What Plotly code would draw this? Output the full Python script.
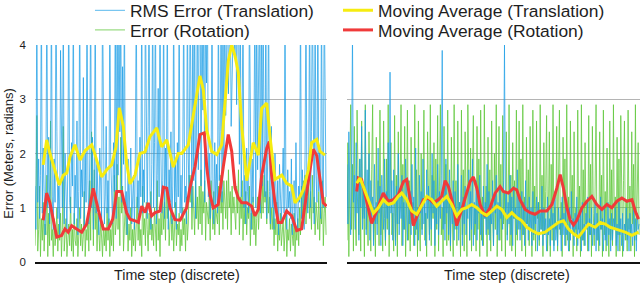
import plotly.graph_objects as go

# ---------------- data ----------------
# noisy series: two samples per time step, 320 samples per panel
left_rms_translation = [
    1.4, 0.6, 5, 1.1, 1.9, 0.8, 1.6, 5, 0.9, 2.1,
    1.3, 0.5, 1.8, 5, 1.0, 2.3, 0.7, 1.5, 5, 1.2,
    0.6, 1.9, 1.1, 5, 2.4, 0.8, 1.4, 0.5, 3.9, 1.7,
    1.0, 5, 0.7, 2.0, 1.3, 0.6, 1.8, 5, 1.1, 0.9,
    2.2, 1.4, 5, 0.7, 1.6, 1.0, 2.6, 0.5, 1.3, 5,
    0.8, 1.7, 1.2, 3.4, 0.6, 2.0, 1.1, 5, 1.5, 0.7,
    1.9, 5, 1.0, 2.3, 0.6, 1.4, 5, 0.9, 1.8, 1.2,
    0.5, 2.1, 1.3, 0.8, 5, 1.6, 0.7, 1.2, 2.5, 0.9,
    1.5, 0.6, 5, 1.9, 1.0, 0.7, 2.2, 1.3, 5, 0.8,
    5, 1.6, 5, 2.4, 5, 1.1, 3.6, 1.8, 5, 0.9,
    1.3, 0.5, 1.9, 0.8, 1.4, 2.1, 0.7, 1.2, 1.6, 0.6,
    2.0, 5, 1.0, 1.5, 0.7, 2.3, 1.2, 5, 0.9, 1.7,
    1.1, 5, 1.9, 0.8, 2.5, 5, 1.3, 0.6, 1.8, 5,
    1.0, 2.2, 5, 0.7, 1.6, 3.2, 1.2, 5, 2.0, 0.9,
    1.5, 5, 0.8, 2.1, 1.3, 5, 0.6, 1.7, 1.1, 2.4,
    0.7, 1.4, 5, 1.0, 1.8, 0.6, 2.2, 1.2, 5, 0.9,
    1.6, 0.8, 2.0, 5, 1.1, 1.4, 0.7, 5, 1.9, 1.2,
    5, 2.3, 1.0, 5, 1.5, 5, 0.8, 2.6, 5, 1.7,
    5, 5, 1.4, 5, 2.8, 5, 1.1, 5, 3.3, 5,
    1.2, 2.0, 0.8, 1.6, 5, 1.3, 0.7, 2.2, 1.0, 1.8,
    0.9, 5, 1.5, 2.4, 5, 1.1, 5, 1.9, 5, 2.7,
    5, 5, 3.1, 5, 5, 2.5, 5, 5, 5, 3.8,
    5, 2.9, 5, 5, 1.8, 5, 1.2, 2.4, 5, 1.0,
    1.6, 0.7, 2.1, 1.3, 0.9, 5, 1.4, 0.6, 1.9, 1.1,
    2.3, 5, 1.0, 5, 1.7, 3.5, 5, 0.9, 5, 1.4,
    5, 2.2, 1.2, 5, 0.8, 1.9, 5, 1.3, 0.7, 2.5,
    1.0, 1.6, 0.6, 2.0, 1.2, 0.8, 1.5, 0.5, 1.8, 1.1,
    0.7, 1.4, 2.1, 0.9, 5, 1.2, 0.6, 1.7, 1.0, 1.3,
    0.8, 1.9, 0.5, 1.2, 1.5, 0.7, 2.2, 1.0, 0.6, 1.4,
    1.1, 5, 0.8, 1.7, 1.3, 0.6, 2.0, 5, 1.2, 0.9,
    1.8, 5, 1.0, 2.4, 5, 1.4, 0.7, 5, 1.6, 1.1,
    5, 1.3, 2.1, 0.8, 5, 1.5, 1.0, 5, 1.9, 1.2,
]
left_rotation_error = [
    0.3, 0.9, 2.7, 0.2, 0.6, 1.4, 0.1, 0.8, 0.4, 1.1,
    0.2, 0.7, 0.5, 1.6, 0.1, 0.9, 0.3, 2.6, 0.4, 0.6,
    0.1, 0.8, 0.3, 0.5, 1.0, 0.2, 0.7, 0.4, 0.9, 0.1,
    0.6, 2.5, 0.2, 0.5, 0.8, 0.1, 0.4, 0.7, 0.3, 1.2,
    0.2, 0.6, 0.1, 0.9, 0.4, 0.3, 0.8, 0.1, 0.5, 1.0,
    0.3, 0.7, 0.2, 0.5, 1.3, 0.1, 0.6, 0.4, 0.9, 0.2,
    1.5, 0.4, 2.4, 0.8, 0.3, 1.7, 0.6, 1.1, 0.2, 0.9,
    0.5, 0.2, 0.8, 0.4, 0.1, 0.7, 0.3, 0.6, 0.2, 1.0,
    0.4, 0.8, 0.1, 0.6, 0.3, 0.9, 0.2, 1.6, 0.5, 0.7,
    1.8, 0.6, 1.2, 0.3, 2.3, 0.9, 1.4, 0.2, 0.8, 1.1,
    0.5, 0.9, 0.2, 0.7, 0.4, 1.0, 0.1, 0.6, 0.3, 0.8,
    0.2, 0.7, 1.2, 0.4, 0.9, 0.3, 0.6, 0.1, 1.4, 0.5,
    0.8, 0.3, 1.1, 0.6, 0.2, 0.9, 0.5, 1.3, 0.4, 0.7,
    0.3, 1.0, 0.6, 0.2, 1.5, 0.4, 0.8, 0.1, 0.9, 0.5,
    1.3, 0.6, 1.1, 0.4, 1.4, 0.8, 1.2, 0.3, 0.7, 1.0,
    0.4, 0.8, 0.2, 0.6, 1.1, 0.3, 0.7, 0.5, 0.9, 0.2,
    0.6, 0.3, 1.0, 0.5, 0.8, 0.2, 1.2, 0.4, 0.7, 1.6,
    1.1, 1.6, 0.6, 1.4, 0.9, 0.5, 1.5, 0.8, 1.2, 0.6,
    1.4, 0.7, 1.7, 0.5, 1.3, 0.9, 1.5, 0.4, 1.1, 0.8,
    0.7, 1.2, 0.4, 1.5, 0.9, 0.6, 1.3, 0.5, 1.0, 0.8,
    0.7, 1.4, 0.5, 1.6, 0.9, 1.3, 0.6, 1.5, 1.1, 0.8,
    1.5, 0.6, 1.7, 1.0, 1.3, 0.5, 1.4, 0.9, 1.2, 0.7,
    0.6, 1.4, 0.9, 1.7, 0.5, 1.2, 0.8, 1.5, 0.4, 1.1,
    0.7, 1.3, 0.5, 1.0, 0.8, 1.4, 0.3, 0.9, 0.6, 1.2,
    0.5, 0.9, 0.3, 0.8, 1.2, 0.6, 1.0, 1.4, 0.8, 1.5,
    0.9, 1.6, 1.1, 1.3, 0.7, 1.5, 0.9, 1.2, 0.6, 1.0,
    0.6, 1.0, 0.3, 0.8, 0.5, 1.1, 0.2, 0.7, 0.4, 0.9,
    0.3, 0.6, 0.8, 0.2, 0.5, 0.9, 0.1, 0.6, 0.4, 0.8,
    0.2, 0.7, 0.5, 0.3, 0.9, 0.1, 0.6, 0.4, 0.8, 0.3,
    1.0, 0.5, 1.4, 0.8, 1.5, 0.9, 1.6, 0.7, 1.2, 1.0,
    1.5, 0.8, 1.3, 0.6, 1.6, 0.9, 1.2, 0.5, 1.1, 0.8,
    0.6, 1.3, 0.4, 1.0, 0.7, 1.5, 0.3, 0.9, 1.2, 0.5,
]
right_rms_translation = [
    1.8, 0.7, 2.4, 1.2, 0.5, 2.0, 4.2, 1.1, 1.6, 0.6,
    2.2, 0.9, 1.4, 0.4, 1.9, 1.0, 2.5, 0.6, 1.3, 0.8,
    2.8, 0.5, 1.7, 1.1, 2.0, 0.4, 1.5, 0.8, 1.2, 0.3,
    1.8, 0.7, 1.1, 0.5, 2.1, 0.9, 1.4, 0.3, 1.6, 1.0,
    0.6, 1.9, 0.4, 1.3, 0.8, 2.2, 0.5, 3.5, 0.9, 1.5,
    0.4, 1.7, 1.0, 0.3, 1.4, 0.7, 2.0, 0.5, 1.2, 0.8,
    1.6, 0.3, 1.1, 0.6, 1.9, 0.9, 0.4, 1.5, 0.7, 1.3,
    0.5, 1.8, 0.8, 1.2, 0.3, 2.1, 0.6, 1.0, 0.4, 1.6,
    0.9, 1.3, 0.5, 1.9, 0.7, 1.1, 0.3, 1.7, 0.8, 1.4,
    0.4, 1.2, 0.6, 2.0, 0.9, 1.5, 0.3, 1.1, 0.7, 1.8,
    0.5, 1.3, 0.8, 1.6, 3.9, 0.6, 1.4, 0.4, 1.9, 0.9,
    1.2, 0.5, 1.7, 0.3, 1.0, 0.7, 1.5, 0.4, 1.3, 0.8,
    0.6, 1.8, 0.4, 1.1, 0.9, 1.6, 0.3, 1.2, 0.7, 1.4,
    0.5, 1.0, 0.8, 1.7, 0.4, 1.3, 0.6, 1.9, 0.3, 1.1,
    0.7, 1.5, 0.4, 1.2, 0.9, 1.6, 0.5, 1.0, 0.3, 1.4,
    0.8, 1.1, 0.5, 1.8, 0.6, 1.3, 0.4, 1.0, 0.7, 1.5,
    0.3, 1.2, 0.9, 1.6, 0.5, 1.1, 0.4, 1.4, 0.8, 1.0,
    0.6, 1.5, 4.0, 0.9, 1.3, 0.4, 1.1, 0.7, 1.6, 0.5,
    1.2, 0.3, 1.4, 0.8, 1.0, 0.5, 1.7, 0.6, 1.2, 0.4,
    0.9, 1.3, 0.5, 1.1, 0.3, 1.5, 0.7, 1.0, 0.4, 1.2,
    0.6, 1.0, 0.3, 1.3, 0.5, 0.9, 0.7, 1.2, 0.2, 1.1,
    0.4, 0.9, 0.6, 1.4, 0.3, 1.0, 0.5, 0.8, 0.2, 1.2,
    0.5, 0.8, 0.3, 1.1, 0.6, 0.9, 0.2, 1.3, 0.4, 0.7,
    0.3, 1.0, 0.6, 0.8, 0.2, 1.2, 0.5, 0.9, 0.3, 1.1,
    0.5, 0.7, 0.2, 1.0, 0.4, 1.3, 0.6, 0.8, 0.3, 0.9,
    0.6, 1.2, 0.3, 0.8, 0.5, 1.0, 0.2, 1.1, 0.4, 0.7,
    0.3, 0.9, 0.6, 1.2, 0.2, 0.8, 0.5, 1.0, 0.3, 0.7,
    0.5, 1.1, 0.2, 0.9, 0.4, 0.7, 0.3, 1.2, 0.6, 0.8,
    0.2, 1.0, 0.4, 0.7, 0.3, 1.1, 0.5, 0.8, 0.2, 0.9,
    0.4, 0.8, 0.6, 1.0, 0.3, 0.7, 0.2, 1.1, 0.5, 0.8,
    0.3, 0.9, 0.2, 0.7, 0.5, 1.0, 0.4, 0.8, 0.2, 0.9,
    0.5, 0.7, 0.3, 1.0, 0.4, 0.8, 0.2, 0.9, 0.6, 0.7,
]
right_rotation_error = [
    0.4, 2.2, 0.1, 1.3, 2.9, 0.6, 1.8, 0.2, 2.5, 0.9,
    0.3, 2.8, 1.1, 0.5, 1.9, 0.2, 2.6, 0.8, 1.4, 0.1,
    2.9, 0.6, 1.2, 0.3, 2.4, 0.9, 0.2, 1.7, 2.9, 0.4,
    1.0, 0.1, 2.3, 0.7, 1.5, 0.3, 2.8, 0.5, 1.1, 0.2,
    2.6, 0.8, 0.3, 1.9, 0.6, 2.9, 0.1, 1.4, 2.2, 0.5,
    0.9, 0.2, 2.7, 0.4, 1.6, 0.1, 2.4, 0.7, 1.2, 2.9,
    0.3, 1.8, 0.6, 2.5, 0.1, 1.0, 2.8, 0.4, 1.5, 0.2,
    2.3, 0.7, 1.1, 0.3, 2.9, 0.5, 1.7, 0.1, 2.6, 0.8,
    0.2, 2.0, 0.6, 1.3, 2.8, 0.4, 0.9, 0.1, 2.4, 1.2,
    0.5, 2.9, 0.3, 1.6, 0.8, 2.2, 0.1, 1.9, 0.6, 2.7,
    0.2, 1.4, 2.9, 0.5, 1.0, 0.1, 2.5, 0.7, 1.8, 0.3,
    2.8, 0.4, 1.2, 0.2, 2.3, 0.9, 0.1, 2.9, 0.6, 1.5,
    0.3, 2.6, 0.8, 1.1, 0.1, 2.8, 0.5, 1.7, 0.2, 2.4,
    0.7, 0.1, 2.9, 1.3, 0.4, 2.1, 0.2, 1.6, 2.7, 0.5,
    1.0, 0.2, 2.5, 0.6, 1.9, 0.1, 2.8, 0.4, 1.2, 0.3,
    2.9, 0.8, 1.4, 0.1, 2.3, 0.5, 1.7, 0.2, 2.6, 0.9,
    0.3, 2.0, 0.6, 2.9, 0.1, 1.1, 2.5, 0.4, 1.8, 0.2,
    2.7, 0.7, 1.3, 0.1, 2.4, 0.5, 0.9, 2.9, 0.3, 1.6,
    0.2, 2.2, 0.8, 1.5, 0.1, 2.8, 0.4, 1.0, 2.6, 0.6,
    1.9, 0.2, 2.9, 0.5, 1.2, 0.1, 2.3, 0.7, 1.7, 0.3,
    2.5, 0.9, 0.1, 2.8, 0.4, 1.4, 0.2, 2.6, 0.8, 1.1,
    0.3, 2.9, 0.6, 1.6, 0.1, 2.2, 0.5, 1.3, 2.7, 0.2,
    0.9, 2.4, 0.1, 1.8, 0.4, 2.9, 0.3, 1.0, 0.6, 2.5,
    0.2, 1.5, 2.8, 0.5, 1.1, 0.1, 2.3, 0.7, 1.9, 0.3,
    2.9, 0.4, 1.2, 0.2, 2.6, 0.8, 1.6, 0.1, 2.4, 0.5,
    1.0, 0.2, 2.8, 0.6, 1.4, 0.1, 2.9, 0.4, 1.7, 0.3,
    2.2, 0.7, 1.1, 0.2, 2.7, 0.5, 1.8, 0.1, 2.5, 0.9,
    0.3, 1.4, 2.9, 0.4, 1.0, 0.2, 2.4, 0.6, 1.6, 0.1,
    2.8, 0.5, 1.3, 0.2, 2.1, 0.8, 0.1, 2.6, 0.4, 1.7,
    0.3, 2.9, 0.6, 1.2, 0.1, 2.3, 0.5, 1.9, 0.2, 2.7,
    0.8, 0.1, 1.5, 2.6, 0.4, 1.1, 0.2, 2.8, 0.6, 1.4,
    0.2, 2.4, 0.7, 1.8, 0.1, 2.9, 0.4, 1.3, 2.2, 0.5,
]
samples_per_step = 2

# moving averages: time steps and values
left_ma_trans_steps = [4.5, 6.4, 8.2, 11.0, 13.3, 15.5, 17.4, 19.2, 21.9, 24.7, 27.4, 31.1, 32.9, 36.5, 39.3,
                       42.0, 44.4, 46.2, 48.4, 50.2, 52.1, 54.8, 57.5, 60.3, 63.0, 66.7, 69.4, 72.2, 75.8,
                       78.5, 80.4, 84.0, 86.7, 90.4, 92.2, 94.1, 96.8, 99.6, 102.3, 104.1, 105.9, 107.8,
                       109.6, 111.4, 113.3, 116.0, 119.6, 122.4, 124.2, 127.0, 128.8, 131.5, 135.2, 137.9,
                       140.7, 142.5, 145.2, 147.0, 149.8, 151.6, 154.4, 156.2, 158.9]
left_ma_trans = [1.79, 2.25, 2.0, 1.7, 1.42, 1.6, 1.64, 1.94, 2.16, 1.88, 2.05, 2.16, 1.98, 1.57, 1.7,
                 1.79, 2.12, 2.84, 2.5, 1.82, 1.44, 1.6, 2.0, 2.03, 2.31, 2.47, 2.12, 2.25, 1.75,
                 2.0, 2.0, 2.16, 2.69, 3.43, 3.18, 2.43, 2.04, 1.98, 2.16, 3.0, 3.7, 4.0,
                 3.8, 3.5, 2.5, 1.5, 2.2, 1.97, 2.83, 2.93, 2.3, 1.52, 1.6, 1.45,
                 1.4, 1.09, 1.2, 1.33, 1.7, 2.2, 2.26, 2.04, 1.97]
left_ma_rot_steps = [4.5, 6.4, 8.2, 10.0, 11.9, 14.6, 16.4, 18.2, 20.1, 22.8, 25.6, 28.3, 30.1, 31.9, 34.7,
                     37.4, 40.2, 42.6, 44.8, 47.5, 50.2, 52.1, 54.8, 56.6, 58.5, 60.3, 62.1, 63.9, 65.8,
                     68.5, 70.3, 72.2, 74.0, 76.7, 79.5, 83.1, 84.9, 87.7, 90.4, 92.8, 94.1, 95.9,
                     97.7, 100.4, 103.2, 105.9, 107.8, 109.6, 111.4, 113.3, 116.0, 118.7, 120.5, 122.4,
                     124.2, 127.0, 128.4, 129.7, 131.5, 133.3, 135.2, 137.9, 140.7, 143.4, 146.1, 148.9,
                     150.7, 152.5, 154.4, 156.2, 158.0, 159.8]
left_ma_rot = [0.77, 1.27, 1.09, 0.79, 0.46, 0.49, 0.61, 0.55, 0.67, 0.61, 0.55, 0.70, 1.0, 1.36, 0.96,
               0.61, 0.61, 0.79, 1.3, 1.3, 0.91, 0.79, 0.76, 0.73, 1.03, 0.91, 1.09, 0.85, 0.91,
               0.94, 1.38, 1.36, 1.0, 0.78, 0.77, 1.0, 1.37, 1.76, 2.35, 2.38, 1.76, 1.24,
               1.0, 1.06, 1.76, 2.35, 2.04, 1.37, 1.18, 1.09, 1.09, 1.03, 0.85, 0.97,
               1.59, 2.1, 2.22, 1.59, 1.09, 0.73, 0.73, 0.94, 0.85, 0.58, 0.61, 1.33,
               1.70, 2.08, 1.96, 1.52, 1.09, 1.03]
right_ma_trans_steps = [5.3, 7.1, 8.9, 11.6, 14.4, 17.1, 19.8, 22.6, 25.3, 28.0, 29.9, 32.6, 35.4, 38.1, 40.8,
                        43.6, 46.3, 49.0, 51.7, 54.5, 57.2, 59.9, 62.7, 65.4, 68.1, 70.9, 73.6, 76.3, 79.1,
                        81.8, 84.5, 87.3, 90.0, 92.7, 95.5, 98.2, 100.9, 104.5, 108.2, 111.9, 115.5, 118.2,
                        120.9, 123.7, 126.4, 129.1, 131.9, 135.5, 138.3, 141.0, 143.7, 146.4, 149.2, 151.9,
                        155.6, 159.2]
right_ma_trans = [1.45, 1.55, 1.39, 1.15, 0.90, 1.0, 1.15, 1.06, 1.09, 1.21, 1.27, 1.15, 0.94, 0.88, 1.03,
                  1.21, 1.15, 1.03, 1.12, 1.21, 1.06, 0.85, 0.97, 1.0, 1.06, 1.0, 0.91, 0.86, 0.94,
                  1.03, 0.97, 0.82, 0.91, 0.82, 0.76, 0.64, 0.58, 0.52, 0.55, 0.64, 0.73, 0.76,
                  0.61, 0.52, 0.46, 0.58, 0.70, 0.64, 0.73, 0.70, 0.64, 0.61, 0.58, 0.55,
                  0.49, 0.55]
right_ma_rot_steps = [5.3, 6.2, 8.0, 10.8, 13.5, 16.2, 19.8, 22.6, 25.3, 28.0, 30.8, 32.6, 34.4, 36.2, 39.0,
                      41.7, 44.4, 47.2, 49.9, 51.7, 53.6, 55.4, 58.1, 59.9, 62.7, 65.4, 67.2, 69.0, 70.9,
                      72.7, 75.4, 78.1, 80.9, 83.6, 85.4, 88.1, 90.9, 92.7, 94.5, 97.3, 100.0, 102.7,
                      105.5, 109.1, 111.9, 114.6, 116.4, 118.2, 120.1, 121.9, 123.7, 125.5, 128.3, 131.0,
                      133.7, 136.4, 139.2, 141.9, 144.6, 147.4, 150.1, 152.8, 155.6, 157.4, 159.2]
right_ma_rot = [1.3, 1.55, 1.52, 1.09, 0.71, 0.94, 1.27, 1.12, 1.15, 1.24, 1.48, 1.52, 1.18, 0.67, 0.91,
                1.15, 1.18, 1.09, 1.15, 1.21, 1.5, 1.39, 1.03, 0.67, 0.97, 1.3, 1.48, 1.57, 1.36,
                1.06, 0.85, 1.0, 1.27, 1.39, 1.30, 1.27, 1.36, 1.33, 1.15, 0.97, 0.91, 0.88,
                0.94, 0.94, 1.06, 1.36, 1.61, 1.36, 1.0, 0.77, 0.68, 0.77, 1.0, 1.12,
                1.21, 1.06, 0.97, 1.06, 1.0, 1.12, 1.18, 1.12, 1.15, 0.94, 0.79]

y_ticks = [0, 1, 2, 3, 4]
x_title = "Time step (discrete)"
y_title = "Error (Meters, radians)"
names = ["RMS Error (Translation)", "Error (Rotation)",
         "Moving Average (Translation)", "Moving Average (Rotation)"]

# ---------------- styles ----------------
BLUE = "rgba(28,158,230,0.72)"
GREEN = "rgba(96,200,60,0.78)"
YELLOW = "#f6ec10"
RED = "#f03a3a"
FONT = "Liberation Sans, Arial, Helvetica, sans-serif"
TXT = "#1e1e1e"

fig = go.Figure()

panels = [
    ("x", "y", left_rms_translation, left_rotation_error,
     left_ma_trans_steps, left_ma_trans, left_ma_rot_steps, left_ma_rot, True),
    ("x2", "y2", right_rms_translation, right_rotation_error,
     right_ma_trans_steps, right_ma_trans, right_ma_rot_steps, right_ma_rot, False),
]
for xa, ya, rms, rot, mts, mt, mrs, mr, show in panels:
    steps_rms = [i / samples_per_step for i in range(len(rms))]
    steps_rot = [i / samples_per_step for i in range(len(rot))]
    fig.add_trace(go.Scatter(x=steps_rot, y=rot, mode="lines", xaxis=xa, yaxis=ya,
                             line=dict(color=GREEN, width=1), name=names[1],
                             showlegend=show, legend="legend3"))
    fig.add_trace(go.Scatter(x=steps_rms, y=rms, mode="lines", xaxis=xa, yaxis=ya,
                             line=dict(color=BLUE, width=1), name=names[0],
                             showlegend=show, legend="legend"))
    fig.add_trace(go.Scatter(x=mrs, y=mr, mode="lines", xaxis=xa, yaxis=ya,
                             line=dict(color=RED, width=3), name=names[3],
                             showlegend=show, legend="legend4"))
    fig.add_trace(go.Scatter(x=mts, y=mt, mode="lines", xaxis=xa, yaxis=ya,
                             line=dict(color=YELLOW, width=3), name=names[2],
                             showlegend=show, legend="legend2"))

axis_common = dict(range=[0, 160], showgrid=False, zeroline=False, showticklabels=False,
                   ticks="", showline=True, linecolor="#111", linewidth=2, fixedrange=True)
yaxis_common = dict(range=[0, 4], tickvals=y_ticks, showgrid=True, gridcolor="#b4b4b4",
                    gridwidth=1.3, zeroline=False, showline=False, ticks="")


def leg(x, y):
    return dict(x=x, xanchor="left", y=y, yref="container", yanchor="middle",
                orientation="v", font=dict(size=17.4, color=TXT, family=FONT),
                itemwidth=30, bgcolor="rgba(0,0,0,0)", borderwidth=0)


fig.update_layout(
    width=640, height=284,
    margin=dict(l=35, r=0, t=45, b=22, autoexpand=False),
    paper_bgcolor="white", plot_bgcolor="white",
    font=dict(family=FONT, color=TXT),
    xaxis=dict(domain=[0, 0.4826], **axis_common),
    xaxis2=dict(domain=[0.5157, 1], **axis_common),
    yaxis=dict(**yaxis_common, showticklabels=True, tickfont=dict(size=11.5, color=TXT),
               ticklabelstandoff=8,
               title=dict(text=y_title, font=dict(size=13, color=TXT), standoff=3)),
    yaxis2=dict(**yaxis_common, anchor="x2", showticklabels=False),
    legend=leg(0.0909, 0.963),
    legend3=leg(0.0909, 0.894),
    legend2=leg(0.5008, 0.963),
    legend4=leg(0.5008, 0.894),
    showlegend=True,
)
fig.add_annotation(text=x_title, xref="paper", yref="paper", x=(177 - 35) / 605, y=-0.06,
                   xanchor="center", yanchor="middle", showarrow=False,
                   font=dict(size=14.3, color=TXT))
fig.add_annotation(text=x_title, xref="paper", yref="paper", x=(507 - 35) / 605, y=-0.06,
                   xanchor="center", yanchor="middle", showarrow=False,
                   font=dict(size=14.3, color=TXT))

fig.write_html("out.html", config={"displayModeBar": False},
               post_script="document.body.style.margin='0';")
